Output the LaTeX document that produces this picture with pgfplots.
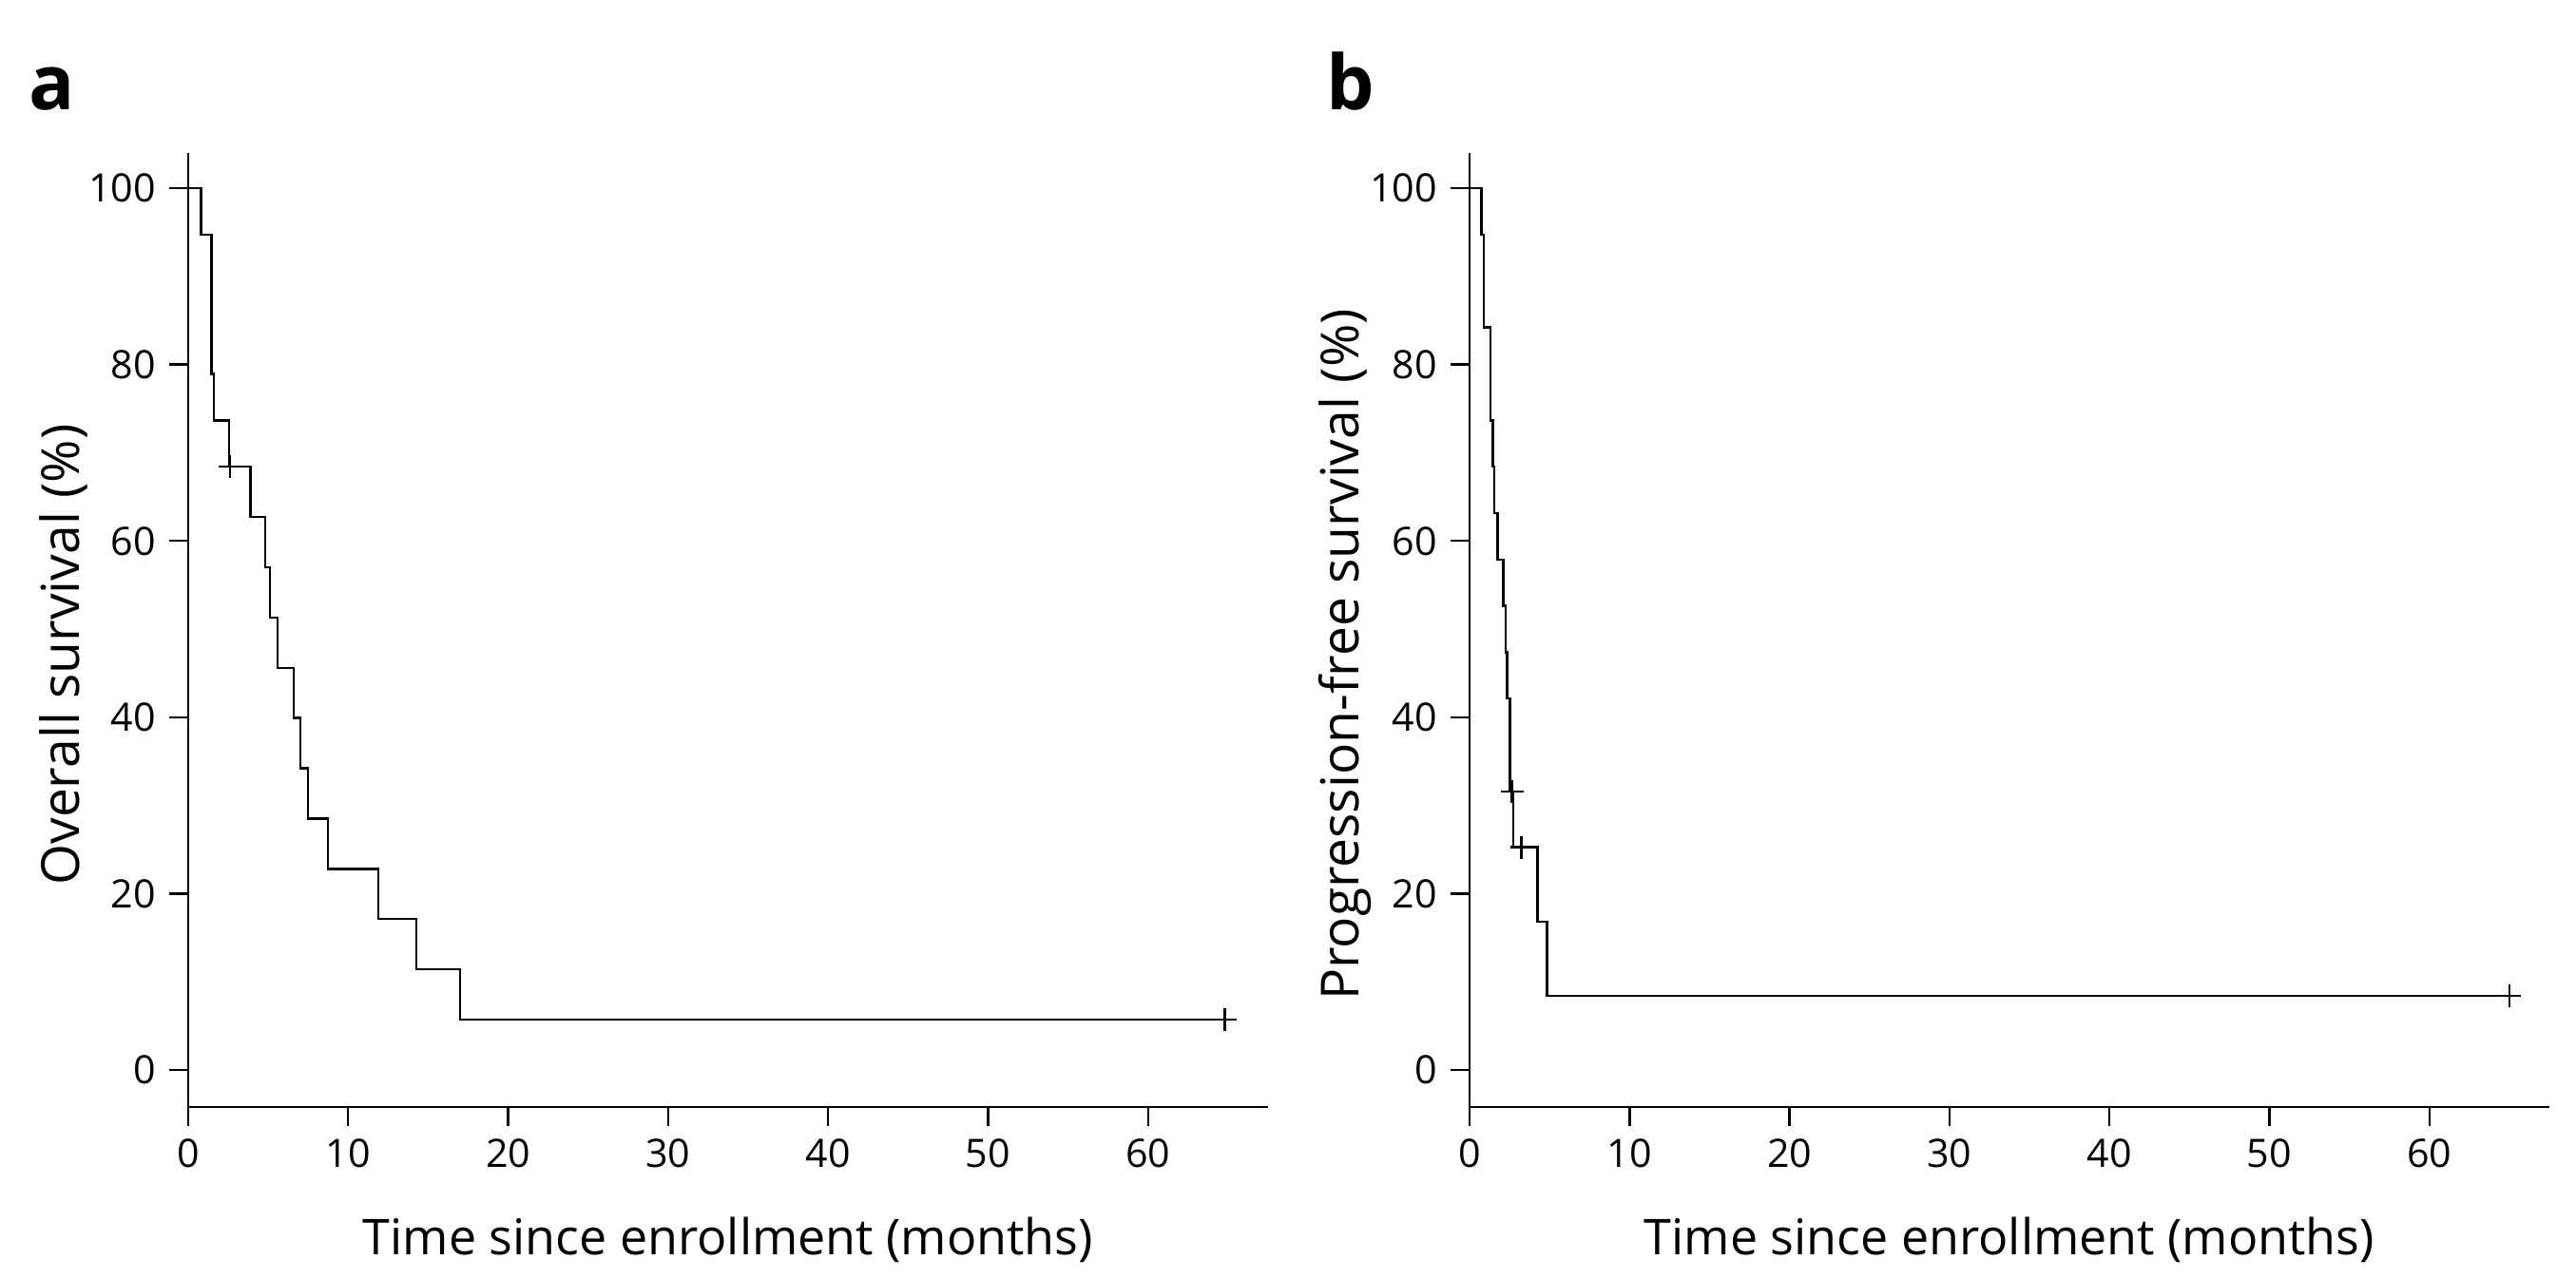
\documentclass[border=0pt]{standalone}
\usepackage{fontspec}
\setmainfont{Open Sans}
\usepackage{pgfplots}
\pgfplotsset{compat=1.18}

\pgfplotsset{kmaxis/.style={
    scale only axis, width=284pt, height=251pt,
    axis lines=left, axis line style={-, line width=0.6pt},
    xmin=0, xmax=67.5, ymin=-4.2, ymax=104,
    xtick={0,10,...,60}, ytick={0,20,...,100},
    tick align=outside, major tick length=5pt,
    tick style={line width=0.6pt, black},
    ticklabel style={font=\fontsize{10.3}{12}\selectfont},
    /pgf/number format/assume math mode=true,
    xlabel style={font=\fontsize{13}{15}\selectfont, at={(axis description cs:0.5,-0.139)}, anchor=center},
    ylabel style={font=\fontsize{13.8}{15}\selectfont, at={(axis description cs:-0.115,0.474)}, anchor=center},
    clip=false,
  },
  kmline/.style={black, line width=0.6pt, const plot, mark=none},
  kmcens/.style={black, only marks, mark=+, mark size=3pt, mark options={line width=0.6pt}}
}

\begin{document}
\begin{tikzpicture}
\useasboundingbox (0,0) rectangle (677.5pt,336.5pt);

% a: overall survival
\begin{axis}[kmaxis, at={(49.5pt,45.25pt)}, anchor=south west,
    xlabel={Time since enrollment (months)}, ylabel={Overall survival (\%)}]
\addplot[kmline] coordinates {
  (0,100) (0.8,94.74) (1.45,78.95) (1.6,73.68) (2.57,68.42)
  (3.9,62.72) (4.82,57.02) (5.12,51.32) (5.58,45.61) (6.58,39.91)
  (7.02,34.21) (7.48,28.51) (8.72,22.81) (11.9,17.11) (14.25,11.40)
  (17.0,5.70) (64.8,5.70)
};
\addplot[kmcens] coordinates {(2.62,68.42) (64.8,5.70)};
\end{axis}

% b: progression-free survival
\begin{axis}[kmaxis, at={(386.5pt,45.25pt)}, anchor=south west,
    xlabel={Time since enrollment (months)}, ylabel={Progression-free survival (\%)}]
\addplot[kmline] coordinates {
  (0,100) (0.73,94.74) (0.88,84.21) (1.31,73.68) (1.45,68.42)
  (1.55,63.16) (1.75,57.89) (2.10,52.63) (2.24,47.37) (2.35,42.11)
  (2.53,31.58) (2.73,25.26) (4.25,16.84) (4.84,8.42) (65,8.42)
};
\addplot[kmcens] coordinates {(2.65,31.58) (3.24,25.26) (65,8.42)};
\end{axis}

\node[anchor=base west, font=\fontsize{20}{24}\selectfont\bfseries, inner sep=0pt] at (7.5pt,307.5pt) {a};
\node[anchor=base west, font=\fontsize{20}{24}\selectfont\bfseries, inner sep=0pt] at (348.75pt,307.5pt) {b};
\end{tikzpicture}
\end{document}
